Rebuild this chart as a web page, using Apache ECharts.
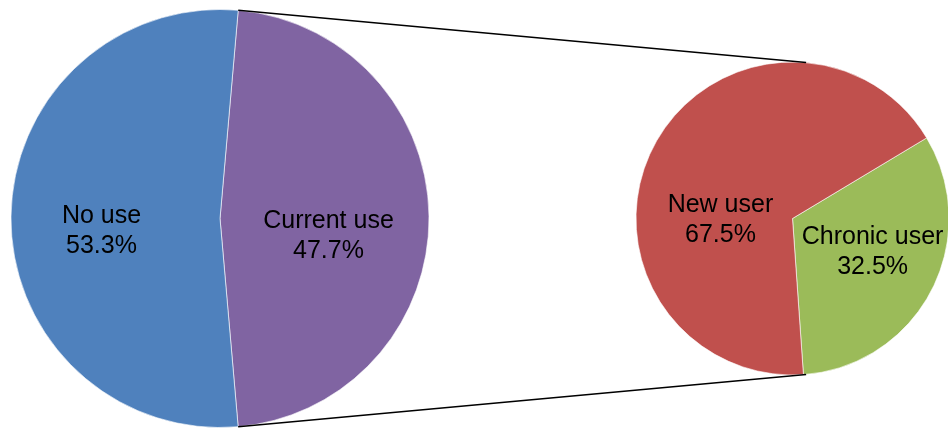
<!DOCTYPE html>
<html>
<head>
<meta charset="utf-8">
<style>html,body{margin:0;padding:0;background:#fff;}#c{width:948px;height:429px;}</style>
<script src="https://cdn.jsdelivr.net/npm/echarts@6/dist/echarts.min.js"></script>
</head>
<body>
<div id="c"></div>
<script>
// Data
const mainCategories = ['Current use', 'No use'];
const mainValues = [47.7, 53.3];
const subCategories = ['Chronic user', 'New user'];
const subValues = [32.5, 67.5];

// Layout / style
const mainColors = ['#8064A2', '#4F81BD'];
const subColors = ['#9BBB59', '#C0504D'];
const mainCenter = [220, 218.5], mainR = 209, mainStart = 85;
const subCenter = [792.5, 218.5], subR = 156.5, subStart = 31;
const mainOffsets = [[1, 18], [-11, 13]];
const subOffsets = [[8, -4], [0, 39]];

const chart = echarts.init(document.getElementById('c'), null, {renderer: 'canvas'});

function fmt(p) { return p.name + '\n' + p.value.toFixed(1) + '%'; }
function mk(names, vals, colors, offs) {
  return names.map((n, i) => ({
    name: n, value: vals[i],
    itemStyle: {color: colors[i]},
    label: {offset: offs[i]}
  }));
}
const labelStyle = {
  show: true, position: 'inside', formatter: fmt, color: '#000',
  fontFamily: 'Liberation Sans, Arial, sans-serif', fontSize: 25, lineHeight: 30
};

// Connector lines from the split points of the main pie to the sub pie
function pt(c, r, deg) {
  const a = deg * Math.PI / 180;
  return [c[0] + r * Math.cos(a), c[1] - r * Math.sin(a)];
}
const mainTotal = mainValues.reduce((a, b) => a + b, 0);
const topA = mainStart;
const botA = mainStart - mainValues[0] / mainTotal * 360;
const p1 = pt(mainCenter, mainR, topA), p2 = pt(subCenter, subR, 85);
const p3 = pt(mainCenter, mainR, botA), p4 = pt(subCenter, subR, -85);

chart.setOption({
  animation: false,
  backgroundColor: '#fff',
  series: [
    {
      type: 'pie', center: mainCenter, radius: [0, mainR], startAngle: mainStart,
      clockwise: true, silent: true,
      itemStyle: {borderColor: '#ffffff', borderWidth: 0.6},
      label: labelStyle, labelLine: {show: false},
      data: mk(mainCategories, mainValues, mainColors, mainOffsets)
    },
    {
      type: 'pie', center: subCenter, radius: [0, subR], startAngle: subStart,
      clockwise: true, silent: true,
      itemStyle: {borderColor: '#ffffff', borderWidth: 0.6},
      label: labelStyle, labelLine: {show: false},
      data: mk(subCategories, subValues, subColors, subOffsets)
    }
  ],
  graphic: [
    {type: 'line', shape: {x1: p1[0], y1: p1[1], x2: p2[0], y2: p2[1]}, style: {stroke: '#000', lineWidth: 1.5}, z: 10},
    {type: 'line', shape: {x1: p3[0], y1: p3[1], x2: p4[0], y2: p4[1]}, style: {stroke: '#000', lineWidth: 1.5}, z: 10}
  ]
});
</script>
</body>
</html>
